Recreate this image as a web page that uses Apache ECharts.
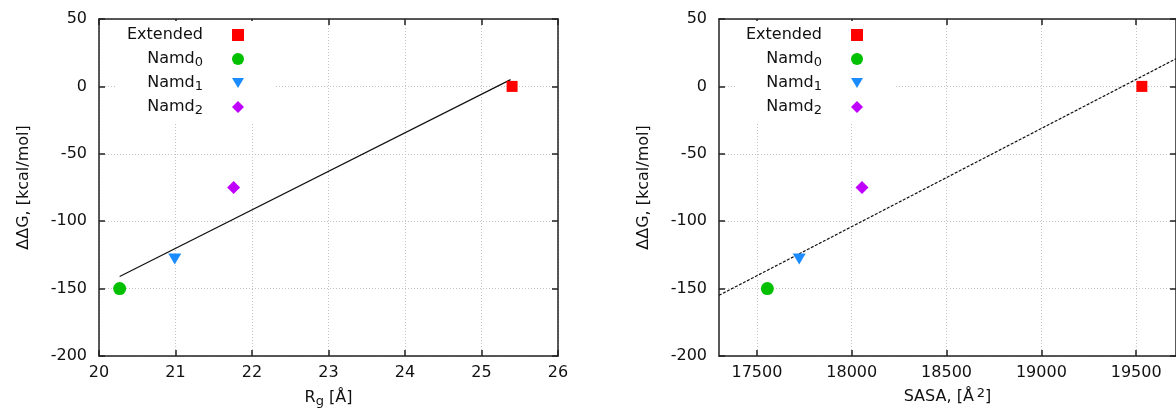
<!DOCTYPE html>
<html>
<head>
<meta charset="utf-8">
<script src="https://cdn.jsdelivr.net/npm/echarts@6/dist/echarts.min.js"></script>
<style>
html, body { margin: 0; padding: 0; background: #fff; }
#chart { width: 1176px; height: 414px; }
</style>
</head>
<body>
<div id="chart"></div>
<script>
// data
var names = ['Extended', 'Namd0', 'Namd1', 'Namd2'];
var rgValues = [25.40, 20.27, 20.99, 21.76];
var sasaValues = [19530, 17555, 17723, 18054];
var ddgValues = [0, -150, -128, -75];
var rgFit = [[20.27, -141], [25.38, 5]];
var sasaFit = [[17300, -155], [19710, 20.5]];
var rgTicks = [20, 21, 22, 23, 24, 25, 26];
var sasaTicks = [17500, 18000, 18500, 19000, 19500];
var ddgTicks = [-200, -150, -100, -50, 0, 50];

var colors = ['#ff0000', '#00c000', '#1a8cff', '#c000ff'];
var symbols = ['rect', 'circle', 'path://M0,0L12,0L6,10Z', 'diamond'];
var sizes = [[11, 11], [13, 13], [13, 11], [13, 13]];

var font = 'DejaVu Sans';
var ink = '#111';

var myChart = echarts.init(document.getElementById('chart'));

function legendFmt(n) {
    if (n.indexOf('Namd') === 0) {
        return 'Namd{s|' + n.substring(4) + '}{g|}';
    }
    return n + '{g|}';
}
var legendRich = {
    s: {fontSize: 13, fontFamily: font, color: ink, padding: [7, 0, 0, 0], lineHeight: 13},
    g: {width: 24, lineHeight: 20}
};

function makeGrid(left) {
    return {left: left, top: 19, width: 459, height: 337};
}

function plainNum(v) { return String(v); }

function bottomAxis(idx, min, max, ticks, nameText, rich) {
    return {
        type: 'value', gridIndex: idx, min: min, max: max, position: 'bottom',
        name: nameText, nameLocation: 'middle', nameGap: 31,
        nameTextStyle: {fontFamily: font, fontSize: 16, color: ink, rich: rich},
        axisLine: {onZero: false, lineStyle: {color: '#222', width: 1.5}},
        axisTick: {inside: true, length: 6, customValues: ticks, lineStyle: {color: '#222', width: 1.5}},
        axisLabel: {customValues: ticks, formatter: plainNum, margin: 9, fontFamily: font, fontSize: 16, color: ink},
        splitLine: {show: true, lineStyle: {color: '#c4c4c4', type: [1, 2], width: 1}}
    };
}
function topAxis(idx, min, max, ticks) {
    return {
        type: 'value', gridIndex: idx, min: min, max: max, position: 'top',
        axisLine: {onZero: false, lineStyle: {color: '#222', width: 1.5}},
        axisTick: {inside: true, length: 6, customValues: ticks, lineStyle: {color: '#222', width: 1.5}},
        axisLabel: {show: false}, splitLine: {show: false}
    };
}
function leftAxis(idx) {
    return {
        type: 'value', gridIndex: idx, min: ddgTicks[0], max: ddgTicks[ddgTicks.length - 1], interval: 50, position: 'left',
        name: 'ΔΔG, [kcal/mol]', nameLocation: 'middle', nameGap: 67,
        nameTextStyle: {fontFamily: font, fontSize: 16, color: ink},
        axisLine: {show: true, onZero: false, lineStyle: {color: '#222', width: 1.5}},
        axisTick: {show: true, inside: true, length: 6, lineStyle: {color: '#222', width: 1.5}},
        axisLabel: {margin: 12, fontFamily: font, fontSize: 16, color: ink},
        splitLine: {show: true, lineStyle: {color: '#c4c4c4', type: [1, 2], width: 1}}
    };
}
function rightAxis(idx) {
    return {
        type: 'value', gridIndex: idx, min: ddgTicks[0], max: ddgTicks[ddgTicks.length - 1], interval: 50, position: 'right',
        axisLine: {show: true, onZero: false, lineStyle: {color: '#222', width: 1.5}},
        axisTick: {show: true, inside: true, length: 6, lineStyle: {color: '#222', width: 1.5}},
        axisLabel: {show: false}, splitLine: {show: false}
    };
}

var series = [];
function addPanel(xIdx, yIdx, xs, fit, dashed, panel) {
    for (var i = 0; i < names.length; i++) {
        series.push({
            name: names[i], type: 'scatter', xAxisIndex: xIdx, yAxisIndex: yIdx,
            symbol: symbols[i], symbolSize: sizes[i],
            itemStyle: {color: colors[i], opacity: 1},
            data: [[xs[i], ddgValues[i]]], z: 5
        });
    }
    series.push({
        name: 'fit' + panel, type: 'line', xAxisIndex: xIdx, yAxisIndex: yIdx,
        data: fit, symbol: 'none', silent: true,
        lineStyle: {color: '#111', width: 1.2, type: dashed ? [3, 1.5] : 'solid'}, z: 3
    });
}
addPanel(0, 0, rgValues, rgFit, false, 1);
addPanel(2, 2, sasaValues, sasaFit, true, 2);

function makeLegend(right) {
    return {
        data: names.map(function (n, i) { return {name: n, itemStyle: {color: colors[i]}}; }),
        orient: 'vertical', align: 'right', right: right, top: 21,
        padding: [4, 31, 5, 11], itemGap: 4, itemWidth: 12, itemHeight: 12,
        backgroundColor: '#fff', selectedMode: false,
        formatter: legendFmt,
        textStyle: {fontFamily: font, fontSize: 16, color: ink, lineHeight: 16, rich: legendRich}
    };
}

myChart.setOption({
    animation: false,
    backgroundColor: '#fff',
    grid: [makeGrid(99), makeGrid(719)],
    legend: [makeLegend(901), makeLegend(282)],
    xAxis: [
        bottomAxis(0, rgTicks[0], rgTicks[rgTicks.length - 1], rgTicks, 'R{s|g} [Å]', {s: {fontSize: 13, fontFamily: font, color: ink, padding: [8, 0, 0, 0]}}),
        topAxis(0, rgTicks[0], rgTicks[rgTicks.length - 1], rgTicks),
        bottomAxis(1, 17300, 19710, sasaTicks, 'SASA, [Å{p|2}]', {p: {fontSize: 13, fontFamily: font, color: ink, padding: [0, 0, 7, 3]}}),
        topAxis(1, 17300, 19710, sasaTicks)
    ],
    yAxis: [leftAxis(0), rightAxis(0), leftAxis(1), rightAxis(1)],
    series: series
});
</script>
</body>
</html>
